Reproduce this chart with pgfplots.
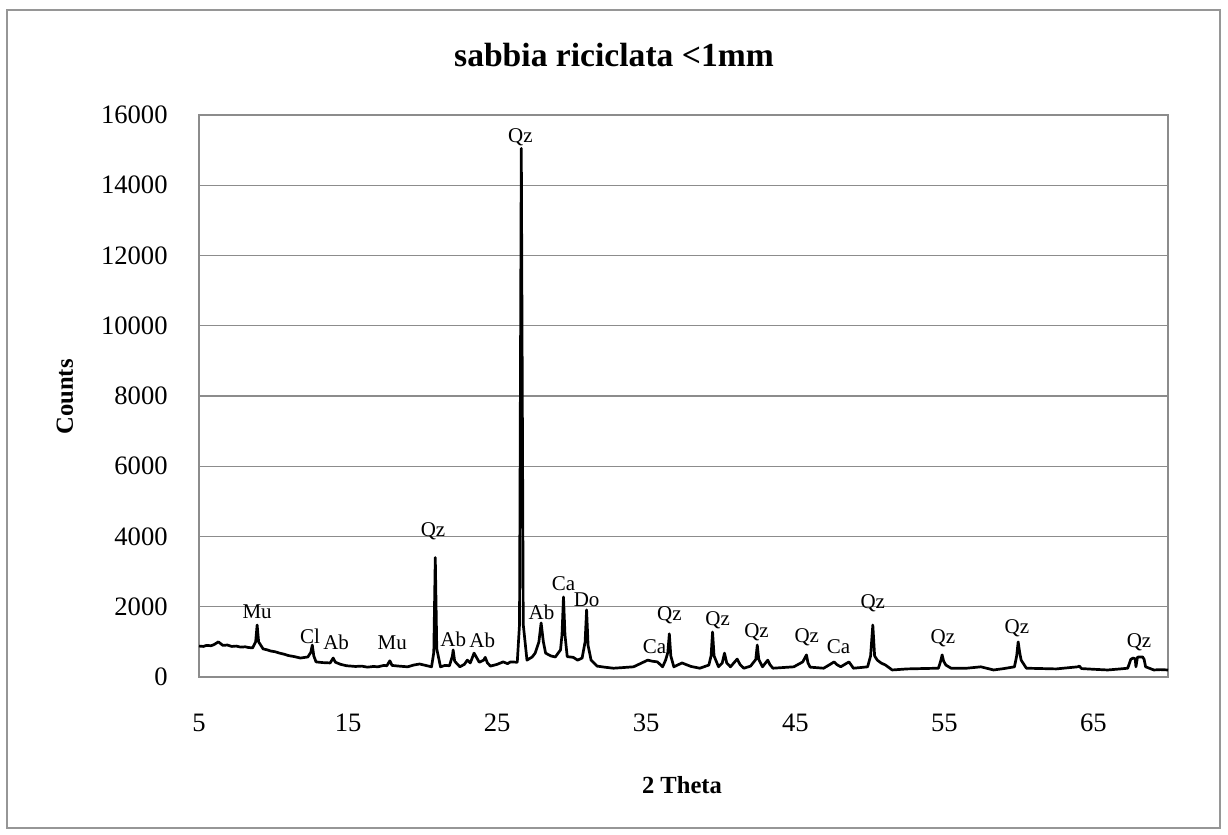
\documentclass[border=0pt]{standalone}
\usepackage{fontspec}
\setmainfont{Liberation Serif}
\usepackage{pgfplots}
\pgfplotsset{compat=1.18}
\definecolor{gridgray}{RGB}{140,140,140}
\definecolor{framegray}{RGB}{150,150,150}
\begin{document}
\begin{tikzpicture}
\path[use as bounding box] (0pt,0pt) rectangle (614pt,417.5pt);
\draw[framegray, line width=0.8pt] (3.5pt,3.5pt) rectangle (610pt,412.5pt);
\node[font=\fontsize{16.8}{19}\selectfont\bfseries] at (307pt,390pt) {sabbia riciclata <1mm};
\node[font=\fontsize{12.3}{14}\selectfont\bfseries, rotate=90] at (32.5pt,219pt) {Counts};
\node[font=\fontsize{12.3}{14}\selectfont\bfseries] at (341pt,25pt) {2 Theta};
\begin{axis}[
  at={(99.5pt,79pt)}, anchor=south west,
  scale only axis, width=484.5pt, height=281pt,
  xmin=5, xmax=70, ymin=0, ymax=16000,
  xtick={5,15,...,65}, ytick={0,2000,...,16000},
  ymajorgrids, major grid style={gridgray, line width=0.7pt},
  axis line style={gridgray, line width=0.7pt},
  major tick length=0pt,
  scaled y ticks=false,
  /pgf/number format/assume math mode=true,
  /pgf/number format/1000 sep={},
  tick label style={font=\fontsize{13.3}{15}\selectfont, inner sep=0pt},
  xticklabel style={anchor=center, yshift=-23pt},
  yticklabel style={anchor=east, xshift=-15.5pt},
  clip=false,
]
\addplot[black, line width=1.35pt, line join=round, mark=none] coordinates {
(5.0,880) (5.3,870) (5.5,900) (5.8,890) (6.0,920) (6.3,1000) (6.6,900) (6.9,910) (7.2,870) (7.5,880) (7.8,850) (8.1,860) (8.3,840)
(8.6,830) (8.8,1000) (8.9,1480) (9.0,1000) (9.3,800) (9.6,770) (9.8,740) (10.1,720) (10.4,680) (10.7,650) (11.0,610) (11.4,580)
(11.8,540) (12.3,570) (12.5,700) (12.6,910) (12.7,600) (12.85,430) (13.3,410) (13.8,400)
(14.0,540) (14.15,420) (14.5,360) (14.9,320) (15.5,300) (15.9,310) (16.3,280) (16.7,300) (17.0,290) (17.4,330) (17.6,320) (17.8,460)
(17.95,330) (18.4,310) (19.0,290) (19.4,340) (19.8,370) (20.3,320) (20.6,290) (20.75,700) (20.85,3400) (20.95,800)
(21.2,290) (21.5,330) (21.8,320) (22.0,600) (22.05,770) (22.15,450) (22.5,290) (22.8,360) (23.0,480) (23.2,400)
(23.45,680) (23.6,570) (23.8,420) (24.1,480) (24.2,560) (24.35,400) (24.55,310) (25.0,360)
(25.4,430) (25.7,380) (25.9,430) (26.35,420) (26.5,1500) (26.62,15050) (26.75,1500) (27.0,480)
(27.35,570) (27.55,680) (27.8,1000) (27.95,1540) (28.1,1000) (28.25,680) (28.6,600) (28.9,570)
(29.25,770) (29.35,1200) (29.45,2280) (29.55,1200) (29.7,580) (30.1,560) (30.4,480) (30.7,540) (30.9,1000)
(31.0,1910) (31.1,900) (31.3,480) (31.7,310) (32.2,280) (32.8,250) (33.5,270) (34.15,290) (34.6,380) (35.1,480)
(35.4,450) (35.75,430) (36.1,290) (36.3,480) (36.45,700) (36.55,1230) (36.65,600) (36.85,290)
(37.4,400) (38.0,300) (38.6,250) (39.2,340) (39.35,600) (39.45,1280) (39.55,600) (39.85,290)
(40.1,400) (40.25,680) (40.4,400) (40.65,290) (41.1,510) (41.3,350) (41.55,250) (42.0,310)
(42.35,500) (42.45,910) (42.55,500) (42.8,290) (43.15,480) (43.3,350) (43.5,250) (44.2,270) (44.9,290)
(45.5,430) (45.75,630) (45.85,400) (46.0,280) (46.9,250) (47.3,350) (47.6,430) (47.8,350)
(48.05,290) (48.6,430) (48.9,250) (49.4,270) (49.85,290) (50.05,600) (50.2,1480) (50.32,600) (50.5,480)
(50.75,400) (51.05,340) (51.5,200) (52.5,230) (53.5,240) (54.6,250) (54.75,450) (54.85,630)
(54.95,450) (55.1,340) (55.45,250) (56.5,250) (57.45,290) (58.3,200) (59.0,240) (59.7,290)
(59.85,600) (59.95,1000) (60.05,700) (60.15,480) (60.5,250) (61.5,240) (62.5,230) (63.95,290)
(64.05,310) (64.2,240) (65.0,220) (65.95,200) (66.8,230) (67.3,250) (67.5,500) (67.65,540)
(67.8,520) (67.85,290) (67.95,560) (68.05,570) (68.3,570) (68.4,500) (68.5,290) (69.05,200)
(69.5,210) (70.0,200)
};
\begin{scope}[every node/.style={font=\fontsize{10.5}{12}\selectfont, inner sep=0pt}]
\node at (axis cs:8.9,1850) {Mu};
\node at (axis cs:12.45,1170) {Cl};
\node at (axis cs:14.2,1000) {Ab};
\node at (axis cs:17.96,970) {Mu};
\node at (axis cs:20.7,4160) {Qz};
\node at (axis cs:22.06,1080) {Ab};
\node at (axis cs:24.0,1050) {Ab};
\node at (axis cs:26.56,15370) {Qz};
\node at (axis cs:27.97,1850) {Ab};
\node at (axis cs:29.45,2650) {Ca};
\node at (axis cs:31.0,2190) {Do};
\node at (axis cs:35.56,850) {Ca};
\node at (axis cs:36.56,1770) {Qz};
\node at (axis cs:39.79,1620) {Qz};
\node at (axis cs:42.4,1280) {Qz};
\node at (axis cs:45.77,1140) {Qz};
\node at (axis cs:47.9,850) {Ca};
\node at (axis cs:50.2,2110) {Qz};
\node at (axis cs:54.9,1110) {Qz};
\node at (axis cs:59.87,1400) {Qz};
\node at (axis cs:68.06,1000) {Qz};
\end{scope}
\end{axis}
\end{tikzpicture}
\end{document}
